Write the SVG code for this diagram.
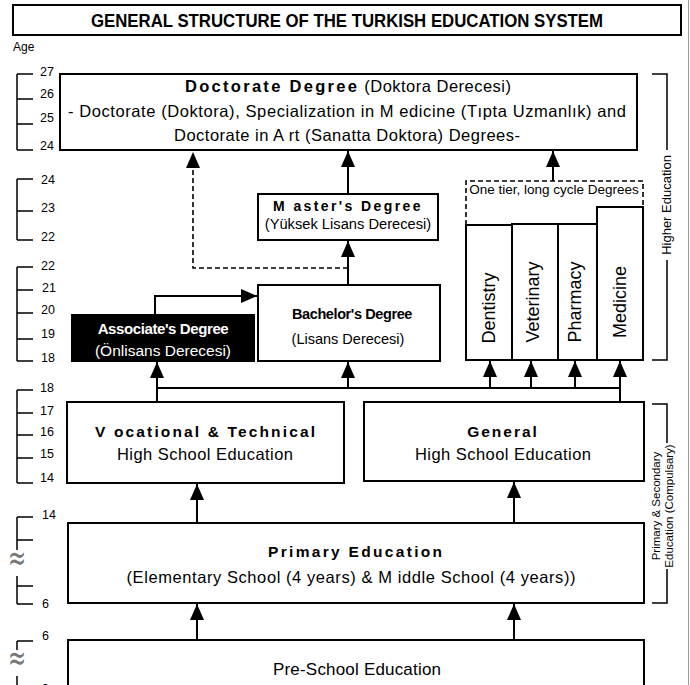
<svg xmlns="http://www.w3.org/2000/svg" width="690" height="685" viewBox="0 0 690 685">
<defs>
<marker id="ah" markerUnits="userSpaceOnUse" markerWidth="16" markerHeight="14" refX="16" refY="7" orient="auto">
<path d="M0,0 L16,7 L0,14 z" fill="#000"/>
</marker>
<style>
text{font-family:"Liberation Sans",Arial,sans-serif;fill:#000}
.box{fill:#fff;stroke:#000;stroke-width:2}
.c{fill:none;stroke:#000;stroke-width:2}
.d{fill:none;stroke:#000;stroke-width:1.6;stroke-dasharray:5,3}
.s{fill:none;stroke:#000;stroke-width:1.5}
.n{font-size:12.5px}
.m{text-anchor:middle}
.b{font-weight:bold}
.w{fill:#fff}
.wave{font-family:"DejaVu Sans",sans-serif;font-size:24px;fill:#777;text-anchor:middle}
.v{font-size:18px;text-anchor:middle}
.r{font-size:13px;text-anchor:middle}
.r2{font-size:11.5px;text-anchor:middle}
</style>
</defs>
<rect width="690" height="685" fill="#fff"/>
<line x1="688.5" y1="0" x2="688.5" y2="685" stroke="#999" stroke-width="1"/>

<g id="title">
<rect x="13" y="5" width="668" height="30" class="box" stroke-width="1.5"/>
<text x="347" y="27" class="m b" font-size="18" textLength="512" lengthAdjust="spacingAndGlyphs">GENERAL STRUCTURE OF THE TURKISH EDUCATION SYSTEM</text>
</g>
<text x="13" y="51" font-size="12">Age</text>

<g id="age-scale">
<path class="s" d="M17,74 V150 M17,74 H33 M17,99 H33 M17,124 H33 M17,150 H33"/>
<text x="40" y="76" class="n">27</text><text x="40" y="98" class="n">26</text><text x="40" y="122" class="n">25</text><text x="40" y="150" class="n">24</text>
<path class="s" d="M17,179 V240 M17,179 H33 M17,211 H33 M17,240 H33"/>
<text x="41" y="184" class="n">24</text><text x="41" y="212" class="n">23</text><text x="41" y="241" class="n">22</text>
<path class="s" d="M17,267 V361 M17,267 H33 M17,290 H33 M17,313 H33 M17,339 H33 M17,361 H33"/>
<text x="41" y="270" class="n">22</text><text x="42" y="292" class="n">21</text><text x="41" y="314" class="n">20</text><text x="41" y="338" class="n">19</text><text x="41" y="362" class="n">18</text>
<path class="s" d="M17,390 V483 M17,390 H33 M17,413 H33 M17,435 H33 M17,458 H33 M17,483 H33"/>
<text x="40" y="392" class="n">18</text><text x="40" y="415" class="n">17</text><text x="40" y="436" class="n">16</text><text x="40" y="458" class="n">15</text><text x="40" y="482" class="n">14</text>
<path class="s" d="M17,517 V604 M17,517 H33 M17,540 H33 M17,586 H33 M17,604 H33"/>
<text x="42" y="519" class="n">14</text><text x="42" y="608" class="n">6</text>
<rect x="7" y="550" width="20" height="26" fill="#fff"/>
<text transform="translate(17,570) scale(0.9,1.5)" class="wave">≈</text>
<path class="s" d="M17,641 V685 M17,641 H33"/>
<text x="42" y="640" class="n">6</text><text x="42" y="693" class="n">3</text>
<rect x="7" y="650" width="20" height="26" fill="#fff"/>
<text transform="translate(17,670) scale(0.9,1.5)" class="wave">≈</text>
</g>

<g id="bracket-higher">
<path class="s" d="M652,74 H667 V150 M667,260 V360 H652"/>
<text transform="translate(671,205) rotate(-90)" class="r">Higher Education</text>
</g>
<g id="bracket-compulsory">
<path class="s" d="M652,404 H667 V443 M667,569 V603 H652"/>
<text transform="translate(660,506) rotate(-90)" class="r2">Primary &amp; Secondary</text>
<text transform="translate(673,506) rotate(-90)" class="r2">Education (Compulsary)</text>
</g>

<g id="doctorate">
<rect x="60" y="74" width="577" height="76" class="box"/>
<text x="348" y="92" class="m" font-size="16.5" textLength="326"><tspan class="b" letter-spacing="1.8">Doctorate Degree</tspan> (Doktora Derecesi)</text>
<text x="347" y="117" class="m" font-size="16.5" textLength="558">- Doctorate (Doktora), Specialization in M edicine (Tıpta Uzmanlık) and</text>
<text x="347" y="141" class="m" font-size="16.5" textLength="346">Doctorate in A rt (Sanatta Doktora) Degrees-</text>
</g>

<g id="masters">
<rect x="258" y="194" width="180" height="46" class="box"/>
<text x="348" y="211" class="m b" font-size="14" letter-spacing="2.4">M aster's Degree</text>
<text x="348" y="229" class="m" font-size="14.7">(Yüksek Lisans Derecesi)</text>
</g>

<g id="bachelors">
<rect x="258" y="285" width="182" height="76" class="box"/>
<text x="352" y="319" class="m b" font-size="14.5" letter-spacing="-0.4">Bachelor's Degree</text>
<text x="348" y="344" class="m" font-size="14.5">(Lisans Derecesi)</text>
</g>

<g id="associate">
<rect x="72" y="315" width="182" height="46" fill="#000" stroke="#000" stroke-width="2"/>
<text x="163" y="334" class="m b w" font-size="15" letter-spacing="-0.4">Associate's Degree</text>
<text x="163" y="356" class="m w" font-size="15.5">(Önlisans Derecesi)</text>
</g>

<g id="one-tier">
<path class="d" d="M466,225 V181 H643 V207"/>
<text x="554" y="194" class="m" font-size="13.5">One tier, long cycle Degrees</text>
</g>
<g id="dentistry">
<rect x="466" y="225" width="46" height="135" class="box"/>
<text transform="translate(495,308) rotate(-90)" class="v">Dentistry</text>
</g>
<g id="veterinary">
<rect x="512" y="224" width="46" height="136" class="box"/>
<text transform="translate(539,302) rotate(-90)" class="v">Veterinary</text>
</g>
<g id="pharmacy">
<rect x="558" y="224" width="39" height="136" class="box"/>
<text transform="translate(581,302) rotate(-90)" class="v">Pharmacy</text>
</g>
<g id="medicine">
<rect x="597" y="207" width="46" height="153" class="box"/>
<text transform="translate(626,302) rotate(-90)" class="v">Medicine</text>
</g>

<g id="vocational">
<rect x="67" y="402" width="277" height="81" class="box"/>
<text x="205" y="437" class="m b" font-size="15.5" textLength="220">V ocational &amp; Technical</text>
<text x="205" y="460" class="m" font-size="16.5" textLength="176">High School Education</text>
</g>
<g id="general">
<rect x="364" y="402" width="280" height="79" class="box"/>
<text x="503" y="437" class="m b" font-size="15.5" letter-spacing="2">General</text>
<text x="503" y="460" class="m" font-size="16.5" textLength="176">High School Education</text>
</g>

<g id="primary">
<rect x="68" y="523" width="576" height="80" class="box"/>
<text x="355" y="557" class="m b" font-size="15.5" textLength="174">Primary Education</text>
<text x="351" y="583" class="m" font-size="16.5" textLength="449">(Elementary School (4 years) &amp; M iddle School (4 years))</text>
</g>

<g id="preschool">
<rect x="68" y="640" width="576" height="60" class="box"/>
<text x="357" y="675" class="m" font-size="17" textLength="168">Pre-School Education</text>
</g>

<g id="connectors">
<path class="d" d="M348,268 H193 V152" marker-end="url(#ah)"/>
<path class="c" d="M348,285 V241" marker-end="url(#ah)"/>
<path class="c" d="M348,194 V151" marker-end="url(#ah)"/>
<path class="c" d="M553,181 V151" marker-end="url(#ah)"/>
<path class="c" d="M155,315 V296 H257" marker-end="url(#ah)"/>
<path class="c" d="M157,402 V362" marker-end="url(#ah)"/>
<path class="c" d="M157,388 H620"/>
<path class="c" d="M348,388 V362" marker-end="url(#ah)"/>
<path class="c" d="M490,388 V361" marker-end="url(#ah)"/>
<path class="c" d="M531,388 V361" marker-end="url(#ah)"/>
<path class="c" d="M575,388 V361" marker-end="url(#ah)"/>
<path class="c" d="M620,402 V361" marker-end="url(#ah)"/>
<path class="c" d="M197,523 V484" marker-end="url(#ah)"/>
<path class="c" d="M514,523 V482" marker-end="url(#ah)"/>
<path class="c" d="M197,640 V604" marker-end="url(#ah)"/>
<path class="c" d="M514,640 V604" marker-end="url(#ah)"/>
</g>
</svg>
